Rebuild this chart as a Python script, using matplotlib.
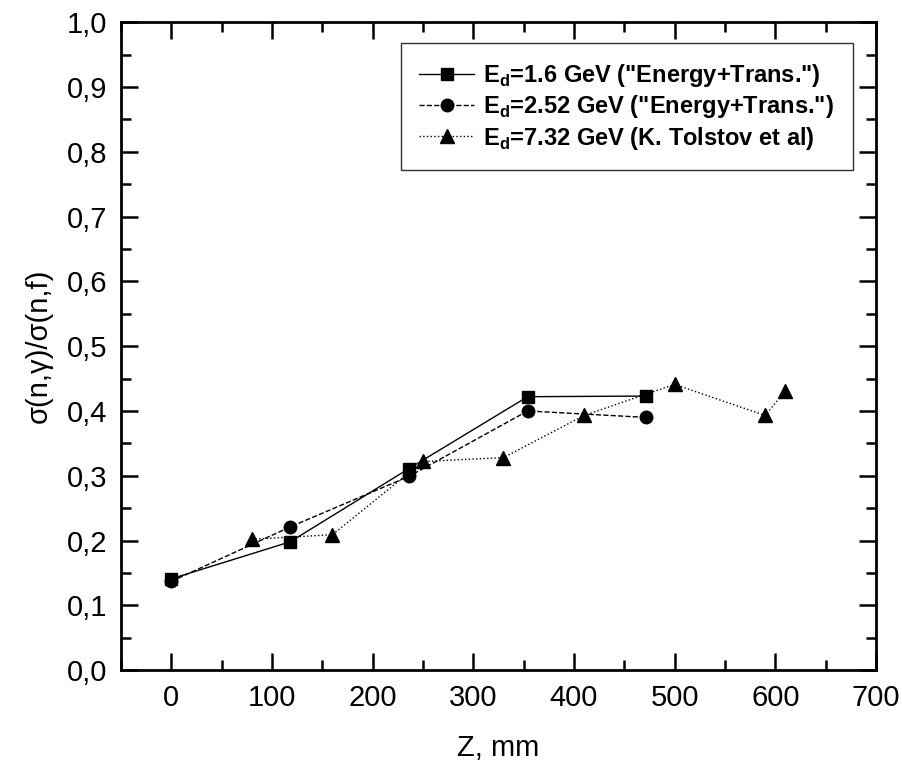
import matplotlib
matplotlib.use("Agg")
import matplotlib.pyplot as plt
from matplotlib.ticker import MultipleLocator, FuncFormatter

plt.rcParams['font.family'] = ['Liberation Sans', 'DejaVu Sans']
plt.rcParams['mathtext.fontset'] = 'custom'
plt.rcParams['mathtext.rm'] = 'Liberation Sans:bold'
plt.rcParams['mathtext.bf'] = 'Liberation Sans:bold'

# ratio sigma(n,gamma)/sigma(n,f) along the target
z_16 = [0, 118, 236, 354, 472]
r_16 = [0.141, 0.198, 0.311, 0.422, 0.423]

z_252 = [0, 118, 236, 354, 472]
r_252 = [0.137, 0.221, 0.299, 0.400, 0.390]

z_732 = [80, 160, 250, 330, 410, 500, 590, 610]
r_732 = [0.202, 0.209, 0.322, 0.328, 0.393, 0.441, 0.393, 0.431]

labels = [r'E$_{\rm d}$=1.6 GeV ("Energy+Trans.")',
          r'E$_{\rm d}$=2.52 GeV ("Energy+Trans.")',
          r'E$_{\rm d}$=7.32 GeV (K. Tolstov et al)']

fig = plt.figure(figsize=(9.03, 7.65), dpi=100)
ax = fig.add_axes([0.134, 0.124, 0.836, 0.847])

ax.plot(z_16, r_16, color='black', ls='-', lw=1.0, marker='s', ms=9, label=labels[0])
ax.plot(z_252, r_252, color='black', ls='--', lw=1.0, marker='o', ms=9, label=labels[1])
ax.plot(z_732, r_732, color='black', ls=':', lw=1.0, marker='^', ms=10, label=labels[2])

ax.set_xlim(-50, 700)
ax.set_ylim(0, 1.0)
ax.xaxis.set_major_locator(MultipleLocator(100))
ax.xaxis.set_minor_locator(MultipleLocator(50))
ax.yaxis.set_major_locator(MultipleLocator(0.1))
ax.yaxis.set_minor_locator(MultipleLocator(0.05))
ax.yaxis.set_major_formatter(FuncFormatter(lambda v, p: f"{v:.1f}".replace('.', ',')))

ax.tick_params(which='both', direction='in', top=True, right=True, width=1.8, labelsize=21, pad=10)
ax.tick_params(which='major', length=12)
ax.tick_params(which='minor', length=7)
for s in ax.spines.values():
    s.set_linewidth(2)

ax.set_xlabel('Z, mm', fontsize=21, labelpad=16)
ax.set_ylabel('σ(n,γ)/σ(n,f)', fontsize=21, labelpad=10)

leg = ax.legend(loc='upper right', bbox_to_anchor=(0.9695, 0.9676), borderaxespad=0,
                prop={'weight': 'bold', 'size': 17}, frameon=True, fancybox=False,
                edgecolor='black', handlelength=2.3, handletextpad=0.4,
                labelspacing=0.18, borderpad=0.8)
leg.get_frame().set_linewidth(1.0)

fig.savefig('out.png', dpi=100)
